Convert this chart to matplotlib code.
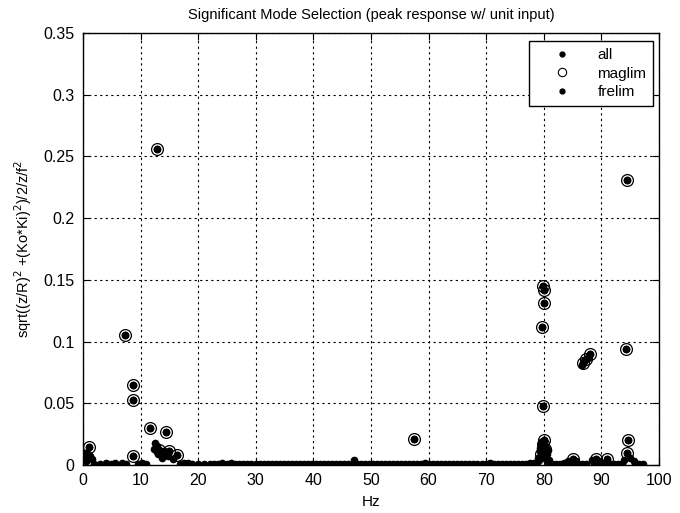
import matplotlib
matplotlib.use('Agg')
import matplotlib.pyplot as plt
from matplotlib.lines import Line2D

plt.rcParams['font.family'] = ['Liberation Sans', 'DejaVu Sans']

# modes picked by the magnitude limit (circled)
maglim_hz = [1.0, 7.3, 8.7, 8.7, 8.7, 12.8, 11.6, 14.4, 13.2, 15.0, 16.3,
             57.5, 79.9, 80.0, 80.0, 79.7, 79.9, 80.1, 79.8, 80.3, 79.6,
             86.8, 87.4, 88.1, 94.4, 94.3, 94.6, 94.4, 85.0, 89.0, 91.0]
maglim_val = [0.0145, 0.105, 0.065, 0.053, 0.007, 0.256, 0.030, 0.027, 0.012, 0.011, 0.008,
              0.021, 0.145, 0.142, 0.131, 0.112, 0.048, 0.020, 0.017, 0.013, 0.009,
              0.083, 0.086, 0.090, 0.231, 0.094, 0.020, 0.010, 0.005, 0.005, 0.005]

# extra modes (not circled)
extra_hz = [0.2, 0.4, 0.5, 0.7, 0.8, 1.2, 1.5, 0.3,
            12.5, 12.9, 13.0, 13.5, 13.8, 14.0, 14.8, 12.3, 15.6,
            78.8, 79.0, 79.2, 79.4, 79.5, 79.7, 80.0, 80.2, 80.4, 80.6, 80.8, 81.0, 79.3, 80.5,
            84.2, 85.6, 88.3, 89.6, 90.5, 94.0, 95.0, 95.6, 47.0,
            86.6, 87.0, 87.6, 87.9]
extra_val = [0.008, 0.006, 0.003, 0.004, 0.009, 0.007, 0.005, 0.010,
             0.018, 0.015, 0.009, 0.010, 0.006, 0.011, 0.007, 0.013, 0.005,
             0.002, 0.006, 0.004, 0.011, 0.016, 0.019, 0.008, 0.015, 0.005, 0.003, 0.012, 0.004, 0.014, 0.009,
             0.003, 0.003, 0.004, 0.003, 0.002, 0.004, 0.006, 0.003, 0.004,
             0.081, 0.084, 0.087, 0.089]

# low-level modes that form the band along the bottom
low_hz = [2.0, 3.0, 4.0, 4.8, 5.5, 6.8, 7.5, 9.5, 10.2, 11.0, 16.8, 17.5, 18.2, 19.0,
          20.0, 21.0, 22.0, 22.8, 23.5, 24.2, 25.0, 25.7, 26.4, 27.1, 27.8, 28.5, 29.2,
          30.0, 30.7, 31.4, 32.1, 32.8, 33.5, 34.2, 34.9, 35.6, 36.3, 37.0, 37.7, 38.4,
          39.1, 39.8, 40.5, 41.2, 41.9, 42.6, 43.3, 44.0, 44.7, 45.4, 46.1, 46.8, 47.5,
          48.2, 48.9, 49.6, 50.3, 51.0, 51.7, 52.4, 53.1, 53.8, 54.5, 55.2, 55.9, 56.6,
          57.3, 58.0, 58.7, 59.4, 60.1, 60.8, 61.5, 62.2, 62.9, 63.6, 64.3, 65.0, 65.7,
          66.4, 67.1, 67.8, 68.5, 69.2, 69.9, 70.6, 71.3, 72.0, 72.7, 73.4, 74.1, 74.8,
          75.5, 76.2, 76.9, 77.6, 78.3, 81.5, 82.2, 82.9, 83.6, 84.8, 86.0, 86.7, 87.4,
          88.8, 90.0, 91.5, 92.2, 92.9, 93.6, 95.8, 96.5, 97.2]
low_val = [0.001, 0.0005, 0.002, 0.001, 0.0015, 0.002, 0.001, 0.001, 0.0015, 0.001, 0.001,
           0.0015, 0.002, 0.001, 0.0005, 0.001, 0.0008, 0.001, 0.0012, 0.0015, 0.001,
           0.0018, 0.0012, 0.001, 0.0009, 0.001, 0.0011, 0.001, 0.0008, 0.001, 0.0012,
           0.001, 0.0009, 0.0007, 0.0005, 0.0004, 0.0008, 0.001, 0.0011, 0.0012, 0.001,
           0.0009, 0.001, 0.0011, 0.001, 0.0009, 0.0012, 0.001, 0.0008, 0.001, 0.0011,
           0.001, 0.0012, 0.001, 0.0009, 0.001, 0.0011, 0.001, 0.0012, 0.001, 0.0009,
           0.001, 0.0011, 0.001, 0.0008, 0.001, 0.0012, 0.001, 0.0009, 0.0015, 0.001,
           0.0009, 0.001, 0.0011, 0.001, 0.0008, 0.0012, 0.001, 0.0009, 0.001, 0.0011,
           0.001, 0.0012, 0.001, 0.0009, 0.0015, 0.001, 0.0011, 0.001, 0.0009, 0.001,
           0.0012, 0.001, 0.0011, 0.001, 0.0013, 0.0015, 0.001, 0.0012, 0.001, 0.0014,
           0.0015, 0.0012, 0.001, 0.0011, 0.0015, 0.001, 0.0012, 0.001, 0.0009, 0.001,
           0.0012, 0.001, 0.0008]

x_ticks = [0, 10, 20, 30, 40, 50, 60, 70, 80, 90, 100]
y_ticks = [0, 0.05, 0.1, 0.15, 0.2, 0.25, 0.3, 0.35]
y_tick_labels = ['0', '0.05', '0.1', '0.15', '0.2', '0.25', '0.3', '0.35']

all_hz = maglim_hz + extra_hz + low_hz
all_val = maglim_val + extra_val + low_val

fig = plt.figure(figsize=(6.8, 5.13), dpi=100)
ax = fig.add_axes([0.122, 0.0936, 0.847, 0.842])

ax.plot(all_hz, all_val, '.', color='black', markersize=9)
ax.plot(maglim_hz, maglim_val, 'o', color='black', markerfacecolor='none',
        markersize=8.5, markeredgewidth=0.9)
ax.plot(maglim_hz, maglim_val, '.', color='black', markersize=9)

ax.set_xlim(0, 100)
ax.set_ylim(0, 0.35)
ax.set_xticks(x_ticks)
ax.set_yticks(y_ticks)
ax.set_yticklabels(y_tick_labels)
ax.tick_params(direction='in', length=5, labelsize=11.5, top=True, right=True, pad=6)
ax.grid(True, color='black', linestyle=(0, (2, 3)), linewidth=0.8)
for s in ax.spines.values():
    s.set_linewidth(1.0)

ax.set_title('Significant Mode Selection (peak response w/ unit input)', fontsize=10.5, pad=10)
ax.set_xlabel('Hz', fontsize=11, labelpad=5)
ax.set_ylabel('sqrt((z/R)$^2$ +(Ko*Ki)$^2$)/2/z/f$^2$', fontsize=10.5, labelpad=7)

handles = [Line2D([], [], linestyle='none', marker='.', color='black', markersize=7),
           Line2D([], [], linestyle='none', marker='o', color='black',
                  markerfacecolor='none', markersize=6, markeredgewidth=0.8),
           Line2D([], [], linestyle='none', marker='.', color='black', markersize=7)]
leg = ax.legend(handles, ['all', 'maglim', 'frelim'], loc='upper right',
                bbox_to_anchor=(0.99, 0.981), borderaxespad=0, fontsize=11,
                frameon=True, fancybox=False, edgecolor='black', framealpha=1,
                handlelength=3.4, handletextpad=0.6, labelspacing=0.3, borderpad=0.45)
leg.get_frame().set_linewidth(1.0)

fig.savefig('out.png', dpi=100)
